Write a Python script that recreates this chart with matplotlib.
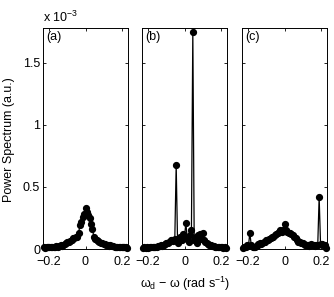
import numpy as np
import matplotlib
matplotlib.use('Agg')
import matplotlib.pyplot as plt

plt.rcParams['font.family'] = ['Liberation Sans', 'DejaVu Sans']
plt.rcParams['mathtext.default'] = 'regular'

# frequency detuning grid (rad/s), 61 bins
omega = np.linspace(-0.225, 0.225, 61)

# power spectra, units of 1e-3 (a.u.)
spec_a = [0.015, 0.012, 0.018, 0.014, 0.016, 0.013, 0.017, 0.020, 0.018, 0.022, 0.020,
          0.025, 0.030, 0.028, 0.035, 0.040, 0.050, 0.055, 0.060, 0.065, 0.070,
          0.085, 0.090, 0.100, 0.100, 0.130, 0.190, 0.220, 0.260, 0.280,
          0.330,
          0.300, 0.270, 0.250, 0.200, 0.160, 0.100, 0.080, 0.075, 0.065, 0.055,
          0.050, 0.045, 0.040, 0.038, 0.035, 0.030, 0.028, 0.030, 0.025, 0.022,
          0.020, 0.018, 0.020, 0.016, 0.018, 0.015, 0.017, 0.014, 0.016, 0.012]

spec_b = [0.012, 0.015, 0.010, 0.014, 0.012, 0.016, 0.013, 0.015, 0.018, 0.016, 0.020,
          0.022, 0.025, 0.030, 0.028, 0.035, 0.040, 0.045, 0.050, 0.060, 0.070,
          0.075, 0.065, 0.080, 0.680, 0.050, 0.090, 0.100, 0.070, 0.120,
          0.100,
          0.210, 0.080, 0.060, 0.110, 0.150, 1.750, 0.070, 0.100, 0.050, 0.110,
          0.120, 0.080, 0.130, 0.070, 0.060, 0.050, 0.040, 0.035, 0.030, 0.025,
          0.022, 0.020, 0.018, 0.015, 0.016, 0.013, 0.014, 0.012, 0.015, 0.011]

spec_c = [0.010, 0.015, 0.020, 0.030, 0.025, 0.130, 0.030, 0.020, 0.015, 0.020, 0.025,
          0.040, 0.045, 0.040, 0.050, 0.055, 0.060, 0.070, 0.075, 0.080, 0.090,
          0.095, 0.100, 0.110, 0.120, 0.130, 0.140, 0.150, 0.140, 0.150,
          0.200,
          0.150, 0.140, 0.130, 0.130, 0.120, 0.110, 0.100, 0.085, 0.070, 0.060,
          0.055, 0.050, 0.045, 0.040, 0.035, 0.030, 0.030, 0.025, 0.040, 0.035,
          0.030, 0.025, 0.030, 0.035, 0.420, 0.040, 0.040, 0.035, 0.030, 0.010]

panels = ['(a)', '(b)', '(c)']
spectra = [spec_a, spec_b, spec_c]

W, H = 334, 297
fig = plt.figure(figsize=(W / 100, H / 100), dpi=100)

lefts = [43, 142, 242]
for i, (lab, s) in enumerate(zip(panels, spectra)):
    ax = fig.add_axes([lefts[i] / W, 48 / H, 85 / W, 221 / H])
    ax.plot(omega, np.array(s) * 1e-3, '-o', color='k', lw=0.9, ms=4.2,
            clip_on=False)
    ax.set_xlim(-0.23, 0.23)
    ax.set_ylim(0, 1.78e-3)
    ax.set_xticks([-0.2, 0, 0.2])
    ax.set_xticklabels(['\u22120.2', '0', '0.2'])
    ax.set_yticks([0, 0.5e-3, 1e-3, 1.5e-3])
    if i == 0:
        ax.set_yticklabels(['0', '0.5', '1', '1.5'])
    else:
        ax.set_yticklabels([])
    ax.tick_params(direction='in', top=True, right=True, length=2.5,
                   width=0.6, labelsize=9, pad=2)
    ax.tick_params(axis='x', pad=5)
    for sp in ax.spines.values():
        sp.set_linewidth(0.7)
    ax.text(0.04, 0.96, lab, transform=ax.transAxes, ha='left', va='center',
            fontsize=9)

fig.text(43 / W, 1 - 22 / H, r'x 10$^{-3}$', ha='left', va='baseline', fontsize=9)
fig.text(9 / W, 1 - 140 / H, 'Power Spectrum (a.u.)', rotation=90,
         ha='center', va='center', fontsize=9)
fig.text(185 / W, 1 - 284 / H, '\u03c9$_d$ \u2212 \u03c9 (rad s$^{-1}$)',
         ha='center', va='center', fontsize=9)

fig.savefig('out.png', dpi=100)
